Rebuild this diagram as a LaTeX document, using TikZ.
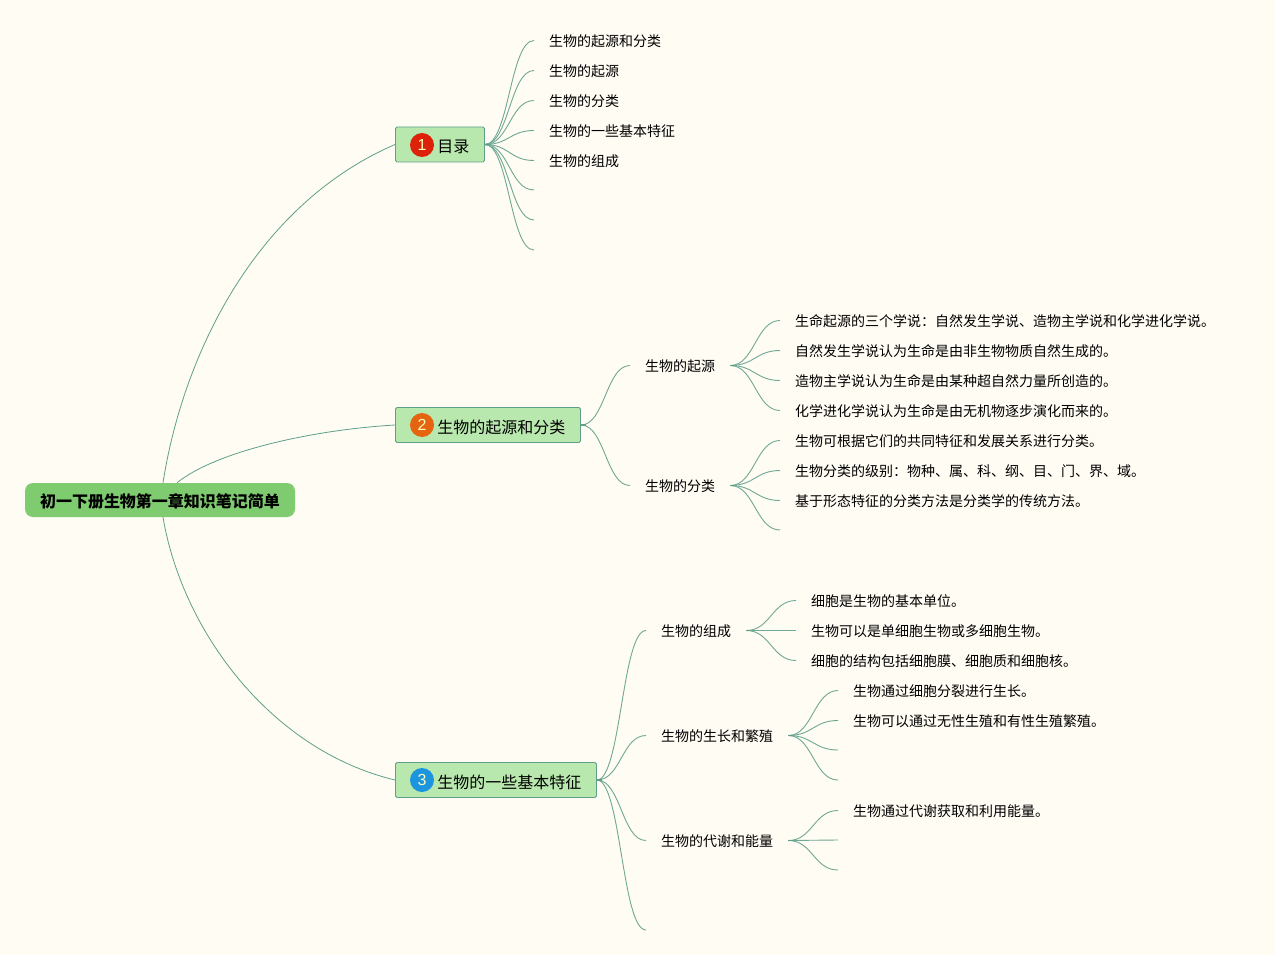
\documentclass[tikz,border=0pt]{standalone}
\usepackage{fontspec}
\setmainfont{Noto Sans CJK SC}
\newfontfamily\digitfont{Liberation Sans}
\usetikzlibrary{positioning}
\definecolor{paper}{HTML}{FFFCF4}
\definecolor{linegreen}{HTML}{5F9F8A}
\definecolor{twiggreen}{HTML}{6FA894}
\definecolor{rootgreen}{HTML}{7FCB70}
\definecolor{topicgreen}{HTML}{B9E8AE}
\definecolor{badgered}{HTML}{DC2208}
\definecolor{badgeorange}{HTML}{E5640F}
\definecolor{badgeblue}{HTML}{1B95DE}

\tikzset{
  root/.style={fill=rootgreen,rounded corners=8pt,minimum width=270pt,minimum height=34pt,inner sep=0pt,text height=15.5pt,text depth=1.5pt,font=\fontsize{16}{16}\selectfont\bfseries},
  topic/.style={draw=linegreen,fill=topicgreen,line width=0.9pt,rounded corners=1.5pt,anchor=west,minimum height=35pt,inner xsep=15pt,inner ysep=0pt,text height=17.5pt,text depth=1pt,font=\fontsize{16}{16}\selectfont},
  badge/.style={circle,minimum size=24pt,inner sep=0pt,text=white!75!yellow,font=\digitfont\fontsize{16}{16}\selectfont},
  leaf/.style={anchor=west,inner xsep=15pt,inner ysep=0pt,text height=13.5pt,text depth=1pt,font=\fontsize{14}{14}\selectfont},
  link/.style={draw=linegreen,line width=0.8pt},
  twig/.style={draw=twiggreen,line width=0.9pt},
  stub/.style={draw=linegreen,line width=1.8pt}
}

\begin{document}
\begin{tikzpicture}[x=1pt,y=-1pt]
  \fill[paper] (0,0) rectangle (1275,955);
  \useasboundingbox (0,0) rectangle (1275,955);

  \node[root] (R) at (160,500) {初一下册生物第一章知识笔记简单};

  % the three topics
  \node[topic] (T1) at (395,144.5) {\hspace{27pt}目录};
  \node[topic] (T2) at (395,425) {\hspace{27pt}生物的起源和分类};
  \node[topic] (T3) at (395,780) {\hspace{27pt}生物的一些基本特征};
  \node[badge,fill=badgered] (B1) at (422,145) {1};
  \node[badge,fill=badgeorange] (B2) at (422,425) {2};
  \node[badge,fill=badgeblue] (B3) at (422,780) {3};

  \draw[link] ([xshift=3pt]R.north) .. controls (183,355) and (255,205) .. (T1.west);
  \draw[link] ([xshift=17pt]R.north) .. controls (215,452) and (310,430) .. (T2.west);
  \draw[link] ([xshift=3pt]R.south) .. controls (182,630) and (270,750) .. (T3.west);

  % topic 1
  \node[leaf] (A1) at (534,40.5) {生物的起源和分类};
  \node[leaf] (A2) at (534,70.5) {生物的起源};
  \node[leaf] (A3) at (534,100.5) {生物的分类};
  \node[leaf] (A4) at (534,130.5) {生物的一些基本特征};
  \node[leaf] (A5) at (534,160.5) {生物的组成};
  \coordinate (A6) at (534,190);
  \coordinate (A7) at (534,220);
  \coordinate (A8) at (534,250);
  \foreach \n in {A1,A2,A3,A4,A5,A6,A7,A8}
    \draw[twig] (T1.east) to[out=0,in=180,distance=24pt] (\n);
  \draw[stub] (T1.east) -- ++(5,0);

  % topic 2
  \node[leaf] (C1) at (630,365.5) {生物的起源};
  \node[leaf] (C2) at (630,485.5) {生物的分类};
  \draw[twig] (T2.east) to[out=0,in=180,distance=24pt] (C1);
  \draw[twig] (T2.east) to[out=0,in=180,distance=24pt] (C2);
  \draw[stub] (T2.east) -- ++(5,0);

  \node[leaf] (C11) at (780,320.5) {生命起源的三个学说：自然发生学说、造物主学说和化学进化学说。};
  \node[leaf] (C12) at (780,350.5) {自然发生学说认为生命是由非生物物质自然生成的。};
  \node[leaf] (C13) at (780,380.5) {造物主学说认为生命是由某种超自然力量所创造的。};
  \node[leaf] (C14) at (780,410.5) {化学进化学说认为生命是由无机物逐步演化而来的。};
  \foreach \n in {C11,C12,C13,C14}
    \draw[twig] (C1.east) to[out=0,in=180,distance=24pt] (\n);
  \draw[stub] (C1.east) -- ++(5,0);

  \node[leaf] (C21) at (780,440.5) {生物可根据它们的共同特征和发展关系进行分类。};
  \node[leaf] (C22) at (780,470.5) {生物分类的级别：物种、属、科、纲、目、门、界、域。};
  \node[leaf] (C23) at (780,500.5) {基于形态特征的分类方法是分类学的传统方法。};
  \coordinate (C24) at (780,530);
  \foreach \n in {C21,C22,C23,C24}
    \draw[twig] (C2.east) to[out=0,in=180,distance=24pt] (\n);
  \draw[stub] (C2.east) -- ++(5,0);

  % topic 3
  \node[leaf] (D1) at (646,630.5) {生物的组成};
  \node[leaf] (D2) at (646,735.5) {生物的生长和繁殖};
  \node[leaf] (D3) at (646,840.5) {生物的代谢和能量};
  \coordinate (D4) at (646,930);
  \foreach \n in {D1,D2,D3,D4}
    \draw[twig] (T3.east) to[out=0,in=180,distance=24pt] (\n);
  \draw[stub] (T3.east) -- ++(5,0);

  \node[leaf] (D11) at (796,600.5) {细胞是生物的基本单位。};
  \node[leaf] (D12) at (796,630.5) {生物可以是单细胞生物或多细胞生物。};
  \node[leaf] (D13) at (796,660.5) {细胞的结构包括细胞膜、细胞质和细胞核。};
  \foreach \n in {D11,D12,D13}
    \draw[twig] (D1.east) to[out=0,in=180,distance=24pt] (\n);
  \draw[stub] (D1.east) -- ++(5,0);

  \node[leaf] (D21) at (838,690.5) {生物通过细胞分裂进行生长。};
  \node[leaf] (D22) at (838,720.5) {生物可以通过无性生殖和有性生殖繁殖。};
  \coordinate (D23) at (838,750);
  \coordinate (D24) at (838,780);
  \foreach \n in {D21,D22,D23,D24}
    \draw[twig] (D2.east) to[out=0,in=180,distance=24pt] (\n);
  \draw[stub] (D2.east) -- ++(5,0);

  \node[leaf] (D31) at (838,810.5) {生物通过代谢获取和利用能量。};
  \coordinate (D32) at (838,840);
  \coordinate (D33) at (838,870);
  \foreach \n in {D31,D32,D33}
    \draw[twig] (D3.east) to[out=0,in=180,distance=24pt] (\n);
  \draw[stub] (D3.east) -- ++(5,0);
\end{tikzpicture}
\end{document}
